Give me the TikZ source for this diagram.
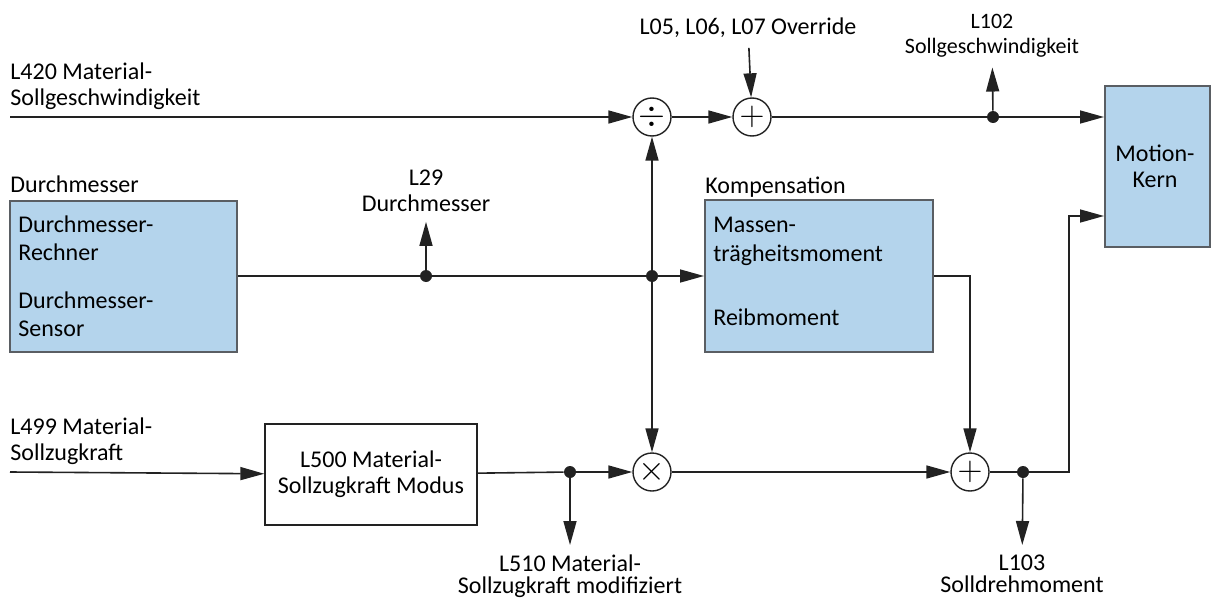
\documentclass[tikz,border=0pt]{standalone}
\usepackage{fontspec}
\setmainfont{Carlito}
\usetikzlibrary{arrows.meta,positioning}
\definecolor{blockblue}{HTML}{B4D4EC}
\definecolor{blockgray}{HTML}{5A5E63}
\definecolor{linegray}{HTML}{222222}

\begin{document}
\begin{tikzpicture}[
    x=0.5pt, y=-0.5pt,
    font=\fontsize{12}{13}\selectfont,
    every node/.style={inner sep=0pt},
    bluebox/.style={draw=blockgray, line width=1pt, fill=blockblue},
    plainbox/.style={draw=linegray, line width=0.7pt, align=center},
    boxtext/.style={align=left, font=\fontsize{12}{14.3}\selectfont},
    sigtext/.style={align=center, outer sep=5pt},
    sumnode/.style={draw=linegray, line width=0.7pt, circle, minimum size=19pt, font=\fontsize{16}{16}\selectfont},
    dot/.style={circle, fill=linegray, minimum size=6pt},
    arrow/.style={-{Triangle[length=12pt, width=6.5pt]}, line width=0.8pt, draw=linegray},
    line/.style={line width=0.8pt, draw=linegray}
  ]
    \useasboundingbox (0,0) rectangle (1211,605);

    % Bloecke
    \node[bluebox, minimum width=113.5pt, minimum height=75.5pt] (diam) at (123.5,276) {};
    \node[boxtext, anchor=north west] (diamtext) at (18,215) {Durchmesser-\\Rechner\\[9.5pt]Durchmesser-\\Sensor};
    \node[anchor=west] (diamlbl) at (10,184) {Durchmesser};

    \node[bluebox, minimum width=114pt, minimum height=76pt] (komp) at (819,276) {};
    \node[boxtext, anchor=north west] (komptext) at (713,217) {Massen-\\trägheitsmoment\\[17.5pt]Reibmoment};
    \node[anchor=west] (komplbl) at (705,187) {Kompensation};

    \node[bluebox, minimum width=52.5pt, minimum height=80.5pt] (motion) at (1157.5,166.5) {};
    \node[align=center] (motiontext) at (1155,166) {Motion-\\Kern};

    \node[plainbox, minimum width=106pt, minimum height=50.5pt] (mode) at (371,474.5) {L500 Material-\\Sollzugkraft Modus};

    % Verknuepfungen
    \node[sumnode] (div) at (652,117) {$\div$};
    \node[sumnode] (add) at (752,117) {$+$};
    \node[sumnode] (mul) at (652,472) {$\times$};
    \node[sumnode] (sum) at (970,472) {$+$};

    % Abgriffe
    \node[dot] (tap102) at (993,117) {};
    \node[dot] (tap29) at (426,276) {};
    \node[dot] (tapdiam) at (652,276) {};
    \node[dot] (tap510) at (570,472) {};
    \node[dot] (tap103) at (1023,472) {};

    % Signale
    \node[anchor=west, align=left] (in420) at (10,86) {L420 Material-\\Sollgeschwindigkeit};
    \node[anchor=west, align=left] (in499) at (10,441) {L499 Material-\\Sollzugkraft};
    \node[sigtext] (ovr) at (748,28) {L05, L06, L07 Override};
    \node[sigtext, font=\fontsize{11}{12.5}\selectfont] (lbl102) at (992,36) {L102\\Sollgeschwindigkeit};
    \node[sigtext] (lbl29) at (426,191) {L29\\Durchmesser};
    \node[sigtext, anchor=north, font=\fontsize{12}{11}\selectfont] (lbl510) at (570,545) {L510 Material-\\Sollzugkraft modifiziert};
    \node[sigtext, anchor=north, font=\fontsize{12}{11}\selectfont] (lbl103) at (1022,545) {L103\\Solldrehmoment};
    \coordinate (start420) at (10,117);
    \coordinate (start499) at (10,472);
    \coordinate (bend) at (1069,472);

    \draw[arrow] (start420) -- (div);
    \draw[arrow] (div) -- (add);
    \draw[arrow] (ovr) -- (add);
    \draw[line] (add) -- (tap102);
    \draw[arrow] (tap102) -- (add -| motion.west);
    \draw[arrow] (tap102) -- (lbl102);

    \draw[line] (diam.east) -- (tap29);
    \draw[line] (tap29) -- (tapdiam);
    \draw[arrow] (tap29) -- (lbl29);
    \draw[arrow] (tapdiam) -- (komp.west);
    \draw[arrow] (tapdiam) -- (div);
    \draw[arrow] (tapdiam) -- (mul);
    \draw[arrow] (komp.east) -| (sum);

    \draw[arrow] (start499) -- (mode);
    \draw[line] (mode) -- (tap510);
    \draw[arrow] (tap510) -- (mul);
    \draw[arrow] (tap510) -- (lbl510);
    \draw[arrow] (mul) -- (sum);
    \draw[line] (sum) -- (tap103);
    \draw[arrow] (tap103) -- (lbl103);
    \draw[arrow] (tap103) -- (bend) |- ([yshift=16pt]motion.south west);
  \end{tikzpicture}
\end{document}
